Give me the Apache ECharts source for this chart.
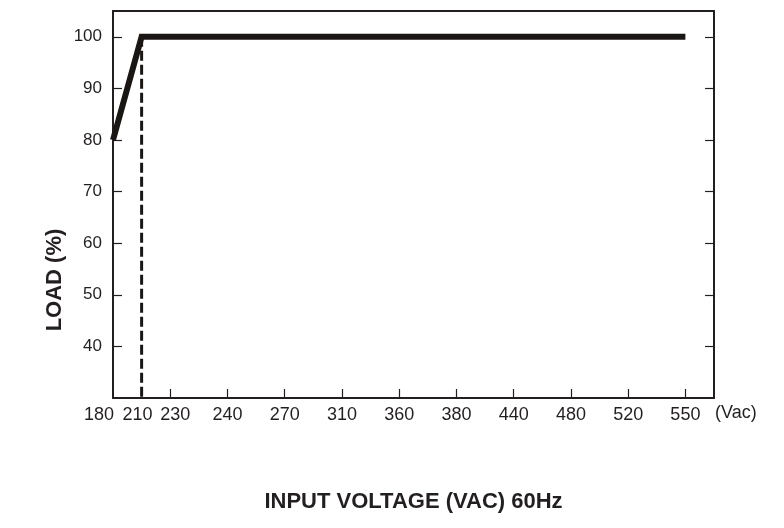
<!DOCTYPE html>
<html>
<head>
<meta charset="utf-8">
<script src="https://cdn.jsdelivr.net/npm/echarts@6/dist/echarts.min.js"></script>
<style>
html,body{margin:0;padding:0;background:#fff;}
#chart{width:784px;height:528px;}
</style>
</head>
<body>
<div id="chart"></div>
<script>
// ---- data ----
const voltageTicks = [180, 210, 230, 240, 270, 310, 360, 380, 440, 480, 520, 550];
const loadTicks = [40, 50, 60, 70, 80, 90, 100];
const curveVoltage = [180, 210, 550];
const curveLoad = [80, 100, 100];
const markerVoltage = [210, 210];
const markerLoad = [100, 30];

// printed axis is non-uniform: slot index of each tick along the axis
const tickSlots = [0, 1, 2, 4, 6, 8, 10, 12, 14, 16, 18, 20];
function toSlot(v) {
  for (let i = 0; i < voltageTicks.length - 1; i++) {
    const a = voltageTicks[i], b = voltageTicks[i + 1];
    if (v >= a && v <= b) {
      return tickSlots[i] + (v - a) / (b - a) * (tickSlots[i + 1] - tickSlots[i]);
    }
  }
  return v < voltageTicks[0] ? tickSlots[0] : tickSlots[tickSlots.length - 1];
}
const slotLabel = {};
voltageTicks.forEach((v, i) => { slotLabel[tickSlots[i]] = String(v); });

const INK = '#231f20';
const SANS = "'Liberation Sans',Arial,sans-serif";

const chart = echarts.init(document.getElementById('chart'), null, {renderer: 'canvas'});
chart.setOption({
  animation: false,
  backgroundColor: '#fff',
  grid: {left: 113, top: 11, width: 601, height: 387, containLabel: false},
  xAxis: [{
    type: 'value', min: 0, max: 21, interval: 1, position: 'bottom',
    splitLine: {show: false},
    axisLine: {show: true, onZero: false, lineStyle: {color: INK, width: 2}},
    axisTick: {show: true, inside: true, length: 9, lineStyle: {color: INK, width: 1.2},
      customValues: tickSlots.slice(2)},
    axisLabel: {
      show: true, margin: 8, color: INK, fontFamily: SANS, fontSize: 18,
      customValues: tickSlots,
      formatter: function (val) {
        const t = slotLabel[val] || '';
        if (val === 0) return '{a|' + t + '}';
        if (val === 1) return '{b|' + t + '}';
        if (val === 2) return '{c|' + t + '}';
        return t;
      },
      rich: {
        a: {fontFamily: SANS, fontSize: 18, color: INK, padding: [0, 28, 0, 0]},
        b: {fontFamily: SANS, fontSize: 18, color: INK, padding: [0, 8, 0, 0]},
        c: {fontFamily: SANS, fontSize: 18, color: INK, padding: [0, 0, 0, 10]}
      }
    },
    name: 'INPUT VOLTAGE (VAC) 60Hz', nameLocation: 'middle', nameGap: 93,
    nameTextStyle: {fontFamily: SANS, fontWeight: 'bold', fontSize: 22, color: INK}
  }, {
    type: 'value', min: 0, max: 21, position: 'top',
    splitLine: {show: false},
    axisLine: {show: true, onZero: false, lineStyle: {color: INK, width: 2}},
    axisTick: {show: false}, axisLabel: {show: false}
  }],
  yAxis: [{
    type: 'value', min: 30, max: 105, interval: 10, position: 'left',
    splitLine: {show: false},
    axisLine: {show: true, onZero: false, lineStyle: {color: INK, width: 2}},
    axisTick: {show: true, inside: true, length: 9, lineStyle: {color: INK, width: 1.2},
      customValues: loadTicks},
    axisLabel: {show: true, margin: 11, color: INK, fontFamily: SANS, fontSize: 17,
      customValues: loadTicks}
  }, {
    type: 'value', min: 30, max: 105, interval: 10, position: 'right',
    splitLine: {show: false},
    axisLine: {show: true, onZero: false, lineStyle: {color: INK, width: 2}},
    axisTick: {show: true, inside: true, length: 9, lineStyle: {color: INK, width: 1.2},
      customValues: loadTicks},
    axisLabel: {show: false}
  }],
  graphic: [{
    type: 'text', x: 715, y: 404,
    style: {text: '(Vac)', font: '18px ' + SANS, fill: INK}
  }, {
    type: 'text', x: 55, y: 280, rotation: Math.PI / 2,
    style: {text: 'LOAD (%)', font: 'bold 22px ' + SANS, fill: INK,
      align: 'center', verticalAlign: 'middle'}
  }],
  series: [{
    type: 'line', xAxisIndex: 0, yAxisIndex: 0,
    data: curveVoltage.map((v, i) => [toSlot(v), curveLoad[i]]),
    showSymbol: false, symbol: 'none',
    lineStyle: {color: '#1a1614', width: 6, join: 'miter', cap: 'butt'},
    z: 3
  }, {
    type: 'line', xAxisIndex: 0, yAxisIndex: 0,
    data: markerVoltage.map((v, i) => [toSlot(v), markerLoad[i]]),
    showSymbol: false, symbol: 'none',
    lineStyle: {color: '#1a1614', width: 3, type: [10, 4], cap: 'butt'},
    z: 2
  }]
});
</script>
</body>
</html>
